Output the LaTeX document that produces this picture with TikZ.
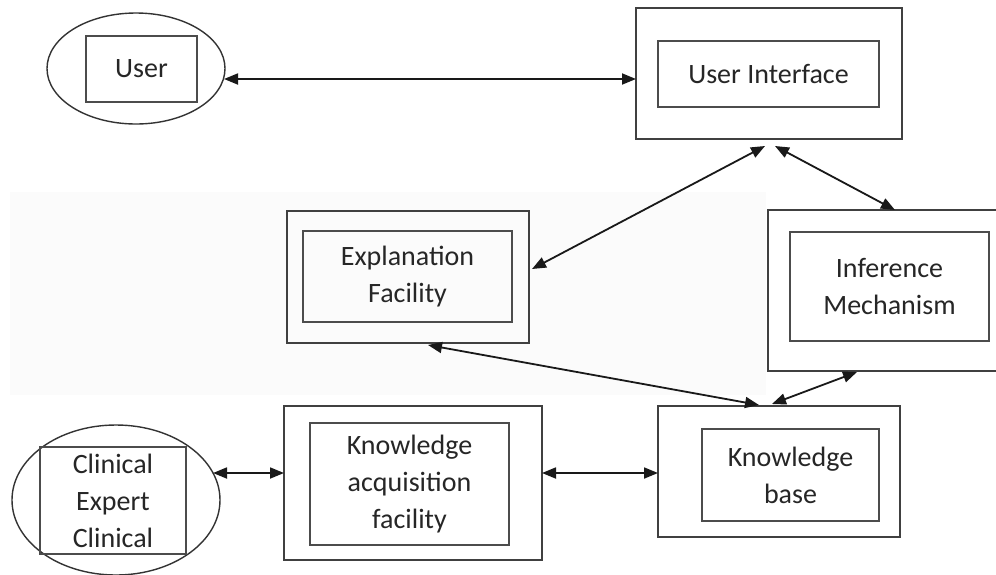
\documentclass[tikz,border=0pt]{standalone}
\usepackage{fontspec}
\setmainfont{Carlito}
\usetikzlibrary{arrows.meta,shapes.geometric,calc}
\begin{document}
\begin{tikzpicture}[x=1pt,y=-1pt,
  every node/.style={inner sep=0pt,outer sep=0pt},
  frame/.style={draw=black!75,line width=1.7pt,rectangle},
  inbox/.style={draw=black!70,line width=1.5pt,rectangle,align=center,
    font=\fontsize{28}{37}\selectfont,text=black!85},
  oval/.style={draw=black!80,line width=1.4pt,ellipse},
  link/.style={line width=1.8pt,draw=black!90,
    {Triangle[length=14pt,width=11pt]}-{Triangle[length=14pt,width=11pt]}}]
  % canvas and the faint shaded band behind the middle row
  \path[fill=white,use as bounding box] (0,0) rectangle (996,574);
  \fill[black!1.5] (10,192) rectangle (766,395);

  % user
  \node[oval,minimum width=178pt,minimum height=111pt] (user) at (136,68.5) {};
  \node[inbox,minimum width=111pt,minimum height=66pt] (userin) at (141.5,69) {User};

  % user interface
  \node[frame,minimum width=266pt,minimum height=131pt] (ui) at (769,73.5) {};
  \node[inbox,minimum width=221pt,minimum height=66pt] (uiin) at (768.5,74) {User Interface};

  % explanation facility
  \node[frame,minimum width=242pt,minimum height=132pt] (expl) at (408,277) {};
  \node[inbox,minimum width=209pt,minimum height=91pt] (explin) at (407.5,276.5) {Explanation\\Facility};

  % inference mechanism
  \node[frame,minimum width=232pt,minimum height=161pt] (inf) at (884,290.5) {};
  \node[inbox,minimum width=199pt,minimum height=109pt] (infin) at (889.5,286.5) {Inference\\Mechanism};

  % knowledge acquisition facility
  \node[frame,minimum width=258pt,minimum height=154pt] (ka) at (413,483) {};
  \node[inbox,minimum width=199pt,minimum height=122pt] (kain) at (409.5,484) {Knowledge\\acquisition\\facility};

  % knowledge base
  \node[frame,minimum width=242pt,minimum height=131pt] (kb) at (779,471.5) {};
  \node[inbox,minimum width=177pt,minimum height=92pt] (kbin) at (790.5,475) {Knowledge\\base};

  % clinical expert
  \node[oval,minimum width=208pt,minimum height=150pt] (expert) at (116,500) {};
  \node[inbox,minimum width=146pt,minimum height=107pt] (expertin) at (113,500.5) {Clinical\\Expert\\Clinical};

  % connectors
  \coordinate (uiL) at ($(ui.west)+(0,5.5)$);
  \draw[link] (user.east |- uiL) ++(-1,0) coordinate (userR) -- (uiL);
  \draw[link] ($(expl.east)+(3,-8)$) -- ($(ui.south)+(-4,7)$);
  \draw[link] ($(ui.south)+(6,7)$) -- ($(inf.north)+(11,0)$);
  \draw[link] ($(expl.south)+(20,2)$) -- ($(kb.north)+(-20,-1)$);
  \draw[link] ($(inf.south)+(-27,1)$) -- ($(kb.north)+(-7,-2)$);
  \coordinate (kaL) at ($(ka.west)+(0,-10)$);
  \draw[link] (213,473) coordinate (expR) -- (kaL);
  \draw[link] ($(ka.east)+(0,-10)$) -- ($(kb.west)+(0,1.5)$);
\end{tikzpicture}
\end{document}
